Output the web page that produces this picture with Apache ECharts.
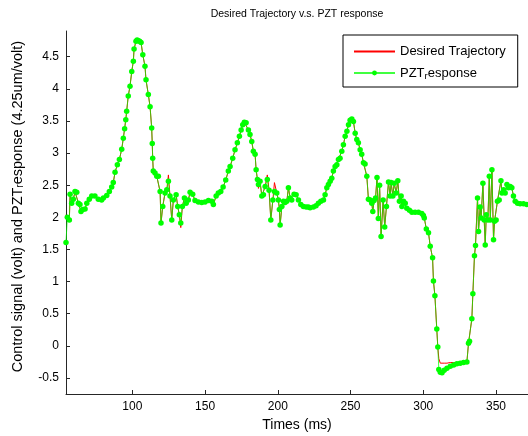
<!DOCTYPE html>
<html>
<head>
<meta charset="utf-8">
<script src="https://cdn.jsdelivr.net/npm/echarts@6/dist/echarts.min.js"></script>
<style>
html,body{margin:0;padding:0;background:#fff;}
#chart{width:528px;height:436px;}
</style>
</head>
<body>
<div id="chart"></div>
<script>
// ---- data ----
const timeMs = [
  54.4,55.3,56.7,57.2,58.3,59.4,60.6,61.8,62.9,64.0,
  64.7,65.9,67.5,68.7,70.4,72.1,74.3,76.6,78.9,80.1,
  82.4,84.2,85.8,86.9,88.1,89.7,91.1,92.7,93.8,94.7,
  95.5,96.1,97.2,98.4,99.6,100.7,101.2,102.5,103.3,104.1,
  105.0,106.0,107.2,108.7,109.4,111.0,112.2,113.3,113.7,114.0,
  114.4,115.6,116.8,117.9,119.1,119.7,120.9,122.5,123.7,124.8,
  125.9,127.1,128.2,130.1,131.2,132.3,133.3,134.4,135.8,137.0,
  138.5,139.7,141.5,143.1,145.4,147.7,150.0,152.3,154.6,155.7,
  157.6,159.1,160.8,162.4,164.2,166.0,167.2,169.0,170.6,172.2,
  173.6,174.8,175.9,177.0,178.2,179.8,180.9,182.1,183.2,184.4,
  185.1,186.0,186.7,187.8,189.0,190.1,191.3,192.8,194.0,195.2,
  196.6,197.7,199.3,200.4,201.1,201.6,202.8,203.9,205.0,206.2,
  207.3,208.5,209.6,211.2,212.6,214.2,215.8,217.6,219.5,221.0,
  222.2,224.5,226.3,227.9,229.6,231.4,232.5,233.7,234.8,236.0,
  237.1,238.2,239.4,240.6,241.7,242.8,244.0,245.1,246.3,247.5,
  248.6,249.7,250.9,252.0,253.2,254.3,255.4,256.6,257.7,258.9,
  260.0,261.2,262.3,263.5,264.6,265.3,266.2,267.2,268.2,269.1,
  270.0,271.0,272.4,273.5,274.7,276.1,277.2,277.9,279.1,280.0,
  281.4,282.5,283.6,284.8,285.3,286.4,287.6,288.7,290.5,292.2,
  294.4,296.7,299.0,300.1,300.7,302.1,303.6,304.8,306.4,307.0,
  308.0,309.3,310.0,310.7,311.7,312.9,314.4,316.3,318.6,320.9,
  323.1,325.4,327.7,330.0,331.1,331.8,333.4,334.1,335.2,335.9,
  337.3,338.0,339.1,339.8,341.0,341.9,342.6,343.3,344.4,345.4,
  346.1,347.2,348.3,349.0,350.1,351.0,352.2,353.4,354.1,355.2,
  356.3,357.5,358.6,359.8,360.9,362.0,363.2,364.8,366.6,368.9,
  371.2
];
const pztResponse = [
  1.61,2.00,1.96,2.36,2.22,2.28,2.40,2.39,2.22,2.20,
  2.09,2.12,2.13,2.22,2.28,2.33,2.33,2.28,2.27,2.30,
  2.34,2.40,2.47,2.54,2.70,2.82,2.90,3.06,3.23,3.38,
  3.52,3.65,3.89,4.04,4.27,4.43,4.62,4.74,4.76,4.75,
  4.74,4.72,4.53,4.35,4.14,3.91,3.72,3.39,3.15,2.92,
  2.72,2.69,2.64,2.64,2.40,1.91,2.17,2.38,2.43,2.56,
  2.33,1.96,2.27,2.35,2.17,2.04,1.91,2.17,2.30,2.22,
  2.27,2.39,2.36,2.26,2.24,2.23,2.24,2.26,2.25,2.20,
  2.33,2.38,2.40,2.47,2.58,2.72,2.79,2.92,3.05,3.16,
  3.26,3.36,3.44,3.48,3.47,3.36,3.29,3.18,3.03,2.98,
  2.74,2.59,2.51,2.56,2.33,2.35,2.48,2.59,2.42,1.96,
  2.27,2.40,2.38,2.27,2.12,1.88,2.17,2.25,2.23,2.25,
  2.46,2.30,2.27,2.36,2.35,2.27,2.20,2.17,2.16,2.16,
  2.15,2.16,2.18,2.22,2.25,2.27,2.35,2.46,2.51,2.56,
  2.61,2.72,2.79,2.82,2.90,2.92,3.03,3.13,3.26,3.34,
  3.44,3.51,3.53,3.49,3.31,3.21,3.16,3.05,2.98,2.85,
  2.83,2.64,2.28,2.27,2.22,2.09,2.26,2.30,2.62,1.98,
  2.50,1.70,2.27,1.85,2.17,2.55,2.33,2.54,2.33,2.53,
  2.38,2.57,2.25,2.33,2.17,2.25,2.22,2.14,2.11,2.08,
  2.08,2.08,2.06,2.03,1.99,1.82,1.76,1.55,1.37,1.01,
  0.78,0.26,-0.02,-0.37,-0.41,-0.42,-0.38,-0.35,-0.32,-0.30,
  -0.28,-0.27,-0.26,-0.25,0.04,0.07,0.42,0.81,1.40,1.56,
  2.30,1.78,2.16,1.99,2.53,1.96,1.57,2.04,1.96,2.64,
  1.96,2.74,1.65,1.94,1.96,2.25,2.27,2.57,2.38,2.43,
  2.38,2.51,2.46,2.48,2.46,2.33,2.25,2.22,2.21,2.21,
  2.20
];
const desiredTrajectory = [
  2.04,2.00,1.96,2.36,2.22,2.28,2.40,2.39,2.22,2.20,
  2.09,2.12,2.13,2.22,2.28,2.33,2.33,2.28,2.27,2.30,
  2.34,2.40,2.47,2.54,2.70,2.82,2.90,3.06,3.23,3.38,
  3.52,3.65,3.89,4.04,4.27,4.43,4.62,4.74,4.76,4.75,
  4.74,4.72,4.53,4.35,4.14,3.91,3.72,3.39,3.15,2.92,
  2.72,2.69,2.64,2.64,2.40,1.91,2.17,2.38,2.43,2.66,
  2.33,1.96,2.27,2.35,2.17,2.04,1.84,2.17,2.30,2.22,
  2.27,2.39,2.36,2.26,2.24,2.23,2.24,2.26,2.25,2.20,
  2.33,2.38,2.40,2.47,2.58,2.72,2.79,2.92,3.05,3.16,
  3.26,3.36,3.44,3.48,3.47,3.36,3.29,3.18,3.03,2.98,
  2.74,2.59,2.45,2.56,2.33,2.35,2.48,2.66,2.42,1.96,
  2.27,2.54,2.38,2.27,2.12,1.88,2.17,2.25,2.23,2.25,
  2.46,2.30,2.27,2.36,2.35,2.27,2.20,2.17,2.16,2.16,
  2.15,2.16,2.18,2.22,2.25,2.27,2.35,2.46,2.51,2.56,
  2.61,2.72,2.79,2.82,2.90,2.92,3.03,3.13,3.26,3.34,
  3.44,3.51,3.53,3.49,3.31,3.21,3.16,3.05,2.98,2.85,
  2.83,2.64,2.28,2.27,2.22,2.09,2.26,2.30,2.62,1.98,
  2.50,1.70,2.27,1.85,2.17,2.55,2.33,2.54,2.33,2.53,
  2.38,2.57,2.25,2.33,2.17,2.25,2.22,2.14,2.11,2.08,
  2.08,2.08,2.06,2.03,1.99,1.82,1.76,1.55,1.37,1.01,
  0.78,0.26,-0.02,-0.20,-0.27,-0.27,-0.27,-0.27,-0.26,-0.26,
  -0.26,-0.26,-0.25,-0.25,0.04,0.07,0.42,0.81,1.40,1.56,
  2.30,1.78,2.16,1.99,2.53,1.96,1.57,2.04,1.96,2.64,
  1.96,2.74,1.65,1.94,1.96,2.25,2.27,2.57,2.38,2.43,
  2.38,2.51,2.46,2.48,2.46,2.33,2.25,2.22,2.21,2.21,
  2.20
];
const xTickValues = [100, 150, 200, 250, 300, 350];
const yTickValues = [-0.5, 0, 0.5, 1, 1.5, 2, 2.5, 3, 3.5, 4, 4.5];
const seriesNames = ['Desired Trajectory', 'PZT_response'];
const titleText = 'Desired Trajectory v.s. PZT response';
const xName = 'Times (ms)';
const yName = 'Control signal (volt) and PZT{s|r}esponse (4.25um/volt)';

// ---- chart ----
const FONT = '"Liberation Sans", Arial, Helvetica, sans-serif';
const chart = echarts.init(document.getElementById('chart'), null, {renderer: 'canvas'});
const pairs = (ys) => timeMs.map((t, i) => [t, ys[i]]);
const axisCol = '#262626';

chart.setOption({
  animation: false,
  backgroundColor: '#fff',
  textStyle: {fontFamily: FONT},
  title: {
    text: titleText,
    left: 297, top: 9, textAlign: 'center', padding: 0,
    textStyle: {fontFamily: FONT, fontSize: 10.5, fontWeight: 'normal', color: '#000'}
  },
  legend: {
    orient: 'vertical',
    left: 343, top: 35,
    padding: [10, 12, 6, 10],
    itemGap: 4,
    itemWidth: 41, itemHeight: 6,
    backgroundColor: '#fff',
    borderColor: '#000', borderWidth: 1, borderRadius: 0,
    data: [
      {name: seriesNames[0], itemStyle: {opacity: 0}},
      {name: seriesNames[1]}
    ],
    formatter: (n) => n === 'PZT_response' ? '{n|PZT}{s|r}{n|esponse}' : '{n|' + n + '}',
    textStyle: {
      fontFamily: FONT, fontSize: 13, color: '#000',
      rich: {
        n: {fontFamily: FONT, fontSize: 13, color: '#000', lineHeight: 16, verticalAlign: 'middle'},
        s: {fontFamily: FONT, fontSize: 9.5, color: '#000', lineHeight: 9, verticalAlign: 'bottom', padding: [9, 0, 0, 0]}
      }
    }
  },
  grid: {left: 66, right: 0, top: 31, bottom: 42, containLabel: false, outerBoundsMode: 'none'},
  xAxis: {
    type: 'value', min: 54.4, max: 372,
    name: xName, nameLocation: 'middle', nameGap: 21,
    nameTextStyle: {fontFamily: FONT, fontSize: 14, color: '#000'},
    axisLine: {show: true, onZero: false, lineStyle: {color: axisCol, width: 1}},
    axisTick: {show: true, inside: true, length: 4, customValues: xTickValues, lineStyle: {color: axisCol}},
    axisLabel: {customValues: xTickValues, fontFamily: FONT, fontSize: 12, color: '#000', margin: 7},
    splitLine: {show: false}
  },
  yAxis: {
    type: 'value', min: -0.75, max: 4.9,
    name: yName, nameLocation: 'middle', nameGap: 41, nameRotate: 90,
    nameTextStyle: {
      fontFamily: FONT, fontSize: 14.5, color: '#000',
      padding: [0, 0, 0, 12],
      rich: {
        s: {fontFamily: FONT, fontSize: 10, color: '#000', lineHeight: 10, verticalAlign: 'bottom', padding: [9, 0, 0, 0]}
      }
    },
    axisLine: {show: true, onZero: false, lineStyle: {color: axisCol, width: 1}},
    axisTick: {show: true, inside: true, length: 4, customValues: yTickValues, lineStyle: {color: axisCol}},
    axisLabel: {customValues: yTickValues, fontFamily: FONT, fontSize: 12, color: '#000', margin: 7},
    splitLine: {show: false}
  },
  series: [
    {
      name: seriesNames[0], type: 'line',
      data: pairs(desiredTrajectory),
      symbol: 'none', showSymbol: false,
      lineStyle: {color: '#ff0000', width: 1},
      itemStyle: {color: '#ff0000'},
      emphasis: {disabled: true}, z: 2
    },
    {
      name: seriesNames[1], type: 'line',
      data: pairs(pztResponse),
      symbol: 'circle', symbolSize: 5.5, showSymbol: true, showAllSymbol: true,
      lineStyle: {color: '#00ff00', width: 1, opacity: 0.75},
      itemStyle: {color: '#00ff00', borderWidth: 0},
      emphasis: {disabled: true}, z: 3
    }
  ]
});
</script>
</body>
</html>
